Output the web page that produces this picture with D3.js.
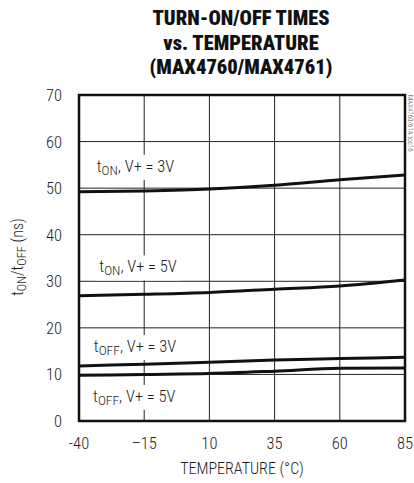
<!DOCTYPE html>
<html><head><meta charset="utf-8">
<script src="https://cdn.jsdelivr.net/npm/d3@7"></script>
<style>
body{margin:0;background:#fff;}
svg{display:block;}
text{font-family:Roboto,"Liberation Sans",sans-serif;font-stretch:condensed;font-weight:300;fill:#1e1e1e;}
</style></head>
<body>
<svg id="c" width="414" height="483"></svg>
<script>
const temps = [-40, -15, 10, 35, 60, 85];
const tOn3V  = [49.2, 49.4, 49.8, 50.6, 51.8, 52.8];
const tOn5V  = [26.9, 27.2, 27.6, 28.3, 29.0, 30.3];
const tOff3V = [11.8, 12.2, 12.6, 13.1, 13.4, 13.7];
const tOff5V = [9.8, 10.0, 10.2, 10.7, 11.3, 11.4];
const xTicks = [-40, -15, 10, 35, 60, 85];
const yTicks = [0, 10, 20, 30, 40, 50, 60, 70];
const titleLines = ["TURN-ON/OFF TIMES", "vs. TEMPERATURE", "(MAX4760/MAX4761)"];
const seriesLabels = [
  {sub:"ON", rest:", V+ = 3V", data:tOn3V, lx:-33.2, ly:53.5},
  {sub:"ON", rest:", V+ = 5V", data:tOn5V, lx:-32.2, ly:31.9},
  {sub:"OFF", rest:", V+ = 3V", data:tOff3V, lx:-34.3, ly:14.8},
  {sub:"OFF", rest:", V+ = 5V", data:tOff5V, lx:-34.6, ly:4.1}
];

const svg = d3.select("#c");
const L = 79, R = 405, T = 95, B = 421;
const x = d3.scaleLinear().domain([-40, 85]).range([L, R]);
const y = d3.scaleLinear().domain([0, 70]).range([B, T]);

// title
svg.append("g").selectAll("text").data(titleLines).join("text")
  .attr("x", 241).attr("y", (d,i)=>25 + i*24.5)
  .attr("text-anchor","middle")
  .style("font-size","20.5px").style("font-weight","900").style("fill","#111")
  .text(d=>d);

// grid
const g = svg.append("g");
g.selectAll("line.v").data(xTicks.slice(1,-1)).join("line")
  .attr("x1", d=>x(d)).attr("x2", d=>x(d)).attr("y1", T).attr("y2", B)
  .attr("stroke","#222").attr("stroke-width",1);
g.selectAll("line.h").data(yTicks.slice(1,-1)).join("line")
  .attr("y1", d=>y(d)).attr("y2", d=>y(d)).attr("x1", L).attr("x2", R)
  .attr("stroke","#222").attr("stroke-width",1);

// curves
const line = d3.line().x((d,i)=>x(temps[i])).y(d=>y(d)).curve(d3.curveMonotoneX);
svg.append("g").selectAll("path").data(seriesLabels).join("path")
  .attr("d", d=>line(d.data)).attr("fill","none")
  .attr("stroke","#111").attr("stroke-width",3);

// labels with white boxes
seriesLabels.forEach(s=>{
  const grp = svg.append("g");
  const t = grp.append("text").attr("x", x(s.lx)).attr("y", y(s.ly))
    .style("font-size","16.5px");
  t.append("tspan").text("t");
  t.append("tspan").attr("dy", 3).style("font-size","13.5px").text(s.sub);
  t.append("tspan").attr("dy", -3).text(s.rest);
  const bb = t.node().getBBox();
  grp.insert("rect","text").attr("x", bb.x-4).attr("y", bb.y-2)
    .attr("width", bb.width+8).attr("height", bb.height+4).attr("fill","#fff");
});

// frame
svg.append("rect").attr("x", L).attr("y", T).attr("width", R-L).attr("height", B-T)
  .attr("fill","none").attr("stroke","#111").attr("stroke-width",2.5);

// axes labels
svg.append("g").selectAll("text").data(yTicks).join("text")
  .attr("x", 62).attr("y", d=>y(d)+6).attr("text-anchor","end")
  .style("font-size","16.5px").text(d=>d);
svg.append("g").selectAll("text").data(xTicks).join("text")
  .attr("x", d=>x(d)).attr("y", 449).attr("text-anchor","middle")
  .style("font-size","16.5px").text(d=>d === -15 ? "\u201315" : (d<0 ? "-"+Math.abs(d) : d));

svg.append("text").attr("x", 242).attr("y", 474).attr("text-anchor","middle")
  .style("font-size","16px").text("TEMPERATURE (\u00B0C)");

const yt = svg.append("text").attr("transform","translate(23,257) rotate(-90)")
  .attr("text-anchor","middle").style("font-size","16px");
yt.append("tspan").text("t");
yt.append("tspan").attr("dy",3).style("font-size","12.5px").text("ON");
yt.append("tspan").attr("dy",-3).text("/t");
yt.append("tspan").attr("dy",3).style("font-size","12.5px").text("OFF");
yt.append("tspan").attr("dy",-3).text(" (ns)");

svg.append("text").attr("transform","translate(408,95) rotate(90)")
  .style("font-size","7px").style("fill","#444").text("MAX4760/61A toc16");
</script>
</body></html>
